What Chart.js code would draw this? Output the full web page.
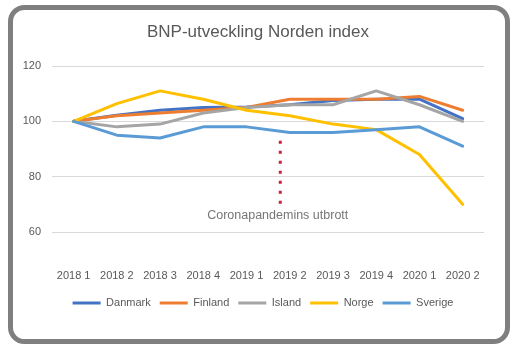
<!DOCTYPE html>
<html>
<head>
<meta charset="utf-8">
<script src="https://cdn.jsdelivr.net/npm/chart.js@4/dist/chart.umd.min.js"></script>
<style>
  html, body { margin: 0; padding: 0; background: #ffffff; }
  #wrap { position: relative; width: 518px; height: 350px; }
</style>
</head>
<body>
<div id="wrap"><canvas id="c" width="518" height="350"></canvas></div>
<script>
// ---- data ----
const categories = ['2018 1', '2018 2', '2018 3', '2018 4', '2019 1', '2019 2', '2019 3', '2019 4', '2020 1', '2020 2'];
const danmark = [100, 102.2, 104, 105, 105.2, 106, 107.5, 108, 108, 101];
const finland = [100, 102, 103, 104, 105, 108, 108, 108, 109, 104];
const island  = [100, 98, 99, 103, 105, 106, 106, 111, 106, 100];
const norge   = [100, 106.4, 111, 108, 104, 102, 99, 97, 88, 70];
const sverige = [100, 95, 94, 98, 98, 96, 96, 97, 98, 91];
const yTicks  = [60, 80, 100, 120];
const titleText = 'BNP-utveckling Norden index';
const annotationText = 'Coronapandemins utbrott';
const annotationIndex = 4.78;   // between 2019 1 and 2019 2
const annotationTop = 93;
const annotationBottom = 70;
const annotationLabelY = 66;

const FONT = "'Liberation Sans', Arial, sans-serif";
const TXT = '#595959';

const frame = {
  id: 'frame',
  afterDraw(chart) {
    const ctx = chart.ctx;
    ctx.save();
    ctx.strokeStyle = '#7F7F7F';
    ctx.lineWidth = 5;
    ctx.beginPath();
    ctx.roundRect(10.5, 7.5, 497, 334, 14);
    ctx.stroke();
    ctx.restore();
  }
};

const shiftBoxes = {
  id: 'shiftBoxes',
  afterLayout(chart) {
    if (chart.legend) { chart.legend.left += 18; }
    if (chart.titleBlock) { chart.titleBlock.left += 8; }
  }
};

const corona = {
  id: 'corona',
  afterDatasetsDraw(chart) {
    const ctx = chart.ctx;
    const xs = chart.scales.x, ys = chart.scales.y;
    const i0 = Math.floor(annotationIndex);
    const f = annotationIndex - i0;
    const x = xs.getPixelForValue(i0) + f * (xs.getPixelForValue(i0 + 1) - xs.getPixelForValue(i0));
    const yTop = ys.getPixelForValue(annotationTop);
    const yBot = ys.getPixelForValue(annotationBottom);
    ctx.save();
    ctx.strokeStyle = '#C9203D';
    ctx.lineWidth = 3;
    ctx.setLineDash([3, 7]);
    ctx.beginPath();
    ctx.moveTo(x, yTop);
    ctx.lineTo(x, yBot);
    ctx.stroke();
    ctx.setLineDash([]);
    ctx.fillStyle = '#767676';
    ctx.font = '12.5px ' + FONT;
    ctx.textAlign = 'center';
    ctx.textBaseline = 'middle';
    ctx.fillText(annotationText, x - 2.5, ys.getPixelForValue(annotationLabelY));
    ctx.restore();
  }
};

function ds(label, data, color, order) {
  return {
    label, data,
    borderColor: color, backgroundColor: color,
    borderWidth: 3, pointRadius: 0, pointHoverRadius: 0,
    tension: 0, fill: false,
    borderCapStyle: 'round', borderJoinStyle: 'round',
    order
  };
}

new Chart(document.getElementById('c'), {
  type: 'line',
  data: {
    labels: categories,
    datasets: [
      ds('Danmark', danmark, '#4472C4', 5),
      ds('Finland', finland, '#ED7D31', 4),
      ds('Island', island, '#A5A5A5', 3),
      ds('Norge', norge, '#FFC000', 2),
      ds('Sverige', sverige, '#5B9BD5', 1)
    ]
  },
  options: {
    responsive: false,
    animation: false,
    devicePixelRatio: 1,
    layout: { padding: { top: 22, left: 20, right: 30, bottom: 31.5 } },
    plugins: {
      tooltip: { enabled: false },
      title: {
        display: true,
        text: titleText,
        color: TXT,
        font: { family: FONT, size: 17, weight: 'normal', lineHeight: 1.2 },
        padding: { top: 0, bottom: 23.6 }
      },
      legend: {
        position: 'bottom',
        labels: {
          color: TXT,
          font: { family: FONT, size: 11 },
          usePointStyle: true,
          pointStyle: 'line',
          pointStyleWidth: 28,
          padding: 9,
          sort: (a, b) => a.datasetIndex - b.datasetIndex
        }
      }
    },
    scales: {
      x: {
        offset: true,
        grid: { display: false, drawTicks: false },
        border: { display: false },
        ticks: {
          color: TXT,
          font: { family: FONT, size: 11, lineHeight: 1.2 },
          padding: 37,
          maxRotation: 0,
          autoSkip: false
        },
        afterFit(scale) { scale.height = 56.5; }
      },
      y: {
        min: 60, max: 120,
        afterBuildTicks(scale) { scale.ticks = yTicks.map(v => ({ value: v })); },
        grid: { color: '#D9D9D9', lineWidth: 1, drawTicks: false },
        border: { display: false },
        ticks: {
          color: TXT,
          font: { family: FONT, size: 11 },
          padding: 11
        },
        afterFit(scale) { scale.width = 32; }
      }
    }
  },
  plugins: [corona, shiftBoxes, frame]
});
</script>
</body>
</html>
